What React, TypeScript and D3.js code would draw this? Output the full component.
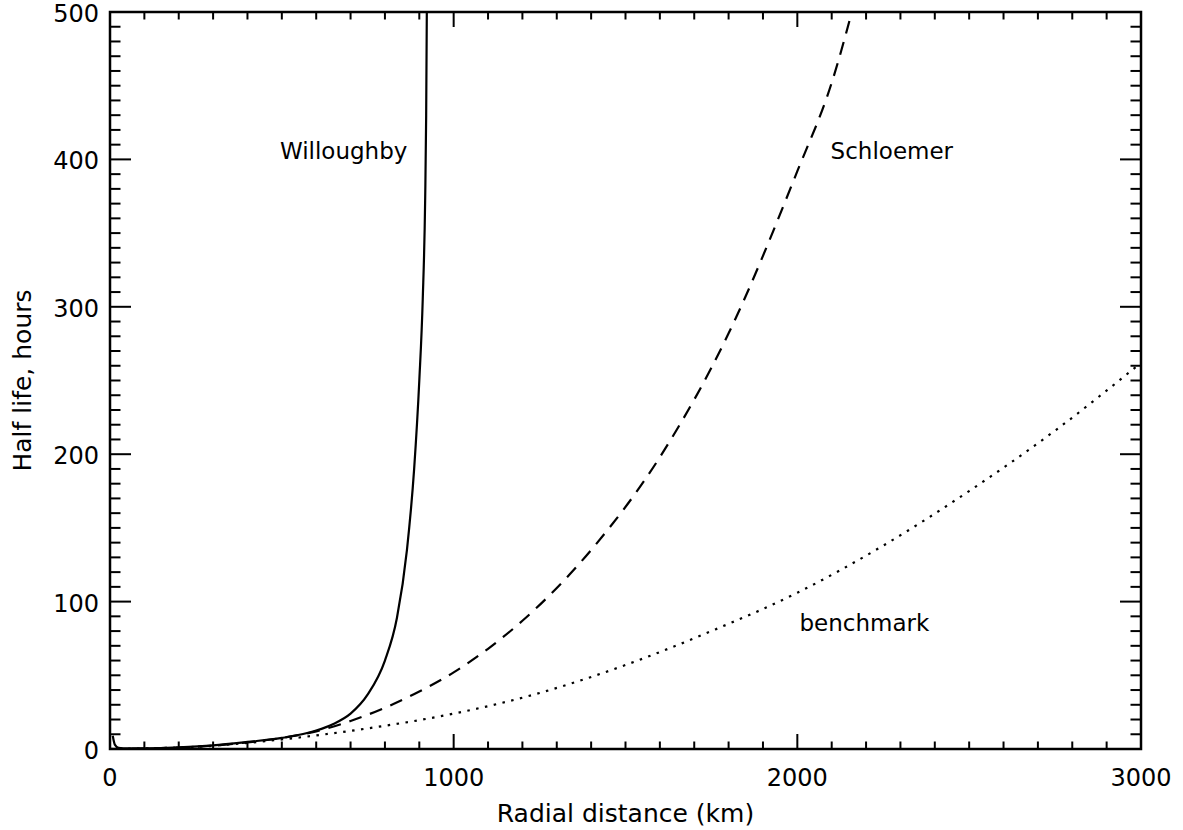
import React, { useEffect, useRef } from 'react';
import * as d3 from 'd3';

// Radial distance (km) / half life (hours)
const willoughbyKm = [8, 14, 25, 50, 100, 200, 300, 400, 500, 600, 650, 700, 750, 800, 835, 864, 885, 900, 910, 917, 920, 922];
const willoughbyHours = [9, 3, 0.8, 0.4, 0.5, 1.2, 2.5, 4.8, 7.5, 12.5, 17, 24, 37, 60, 89, 135, 190, 250, 305, 372, 430, 505];

const schloemerKm = [0, 100, 200, 300, 400, 500, 600, 700, 800, 900, 1000, 1100, 1200, 1400, 1600, 1800, 2000, 2100, 2170];
const schloemerHours = [0, 0.3, 1, 2.3, 4.5, 7.5, 12, 19, 28, 39, 52, 68, 87, 135, 198, 282, 392, 452, 510];

const benchmarkKm = [0, 250, 500, 750, 1000, 1250, 1500, 1750, 2000, 2250, 2500, 2750, 3000];
const benchmarkHours = [0, 1.5, 6.5, 14, 24, 38, 57, 80, 106, 138, 175, 216, 262];

const xTicks = [0, 1000, 2000, 3000];
const yTicks = [0, 100, 200, 300, 400, 500];

const curveLabels = ['Willoughby', 'Schloemer', 'benchmark'];
const labelKm = [680, 2275, 2195];
const labelHours = [400, 400, 80];

const FONT = '"DejaVu Sans", sans-serif';

const App: React.FC = () => {
  const svgRef = useRef<SVGSVGElement>(null);

  useEffect(() => {
    if (!svgRef.current) return;
    const svg = d3.select(svgRef.current);
    svg.selectAll('*').remove();

    const left = 110, right = 1141, top = 12, bottom = 749;

    const x = d3.scaleLinear().domain([0, 3000]).range([left, right]);
    const y = d3.scaleLinear().domain([0, 500]).range([bottom, top]);

    svg.append('defs').append('clipPath').attr('id', 'plot-clip')
      .append('rect')
      .attr('x', left).attr('y', top)
      .attr('width', right - left).attr('height', bottom - top);

    const line = d3.line<[number, number]>()
      .x(d => x(d[0]))
      .y(d => y(d[1]))
      .curve(d3.curveMonotoneX);

    const series = [
      { km: willoughbyKm, hours: willoughbyHours, dash: null as string | null },
      { km: schloemerKm, hours: schloemerHours, dash: '13,9' },
      { km: benchmarkKm, hours: benchmarkHours, dash: '2.5,6.5' }
    ];

    const plot = svg.append('g').attr('clip-path', 'url(#plot-clip)');
    series.forEach(s => {
      const pts = s.km.map((k, i) => [k, s.hours[i]] as [number, number]);
      const p = plot.append('path')
        .attr('d', line(pts))
        .attr('fill', 'none')
        .attr('stroke', '#000')
        .attr('stroke-width', 2.2);
      if (s.dash) p.attr('stroke-dasharray', s.dash);
    });

    // Frame
    svg.append('rect')
      .attr('x', left).attr('y', top)
      .attr('width', right - left).attr('height', bottom - top)
      .attr('fill', 'none')
      .attr('stroke', '#000')
      .attr('stroke-width', 2.5);

    const ticks = svg.append('g').attr('stroke', '#000').attr('stroke-width', 2);

    // x ticks (bottom and top), minor every 100 km
    d3.range(0, 3001, 100).forEach(v => {
      const major = v % 1000 === 0;
      const len = major ? 15 : 7.5;
      ticks.append('line').attr('x1', x(v)).attr('x2', x(v)).attr('y1', bottom).attr('y2', bottom - len);
      ticks.append('line').attr('x1', x(v)).attr('x2', x(v)).attr('y1', top).attr('y2', top + len);
    });

    // y ticks (left and right), minor every 10 hours
    d3.range(0, 501, 10).forEach(v => {
      const major = v % 100 === 0;
      const len = major ? 21 : 10.5;
      ticks.append('line').attr('x1', left).attr('x2', left + len).attr('y1', y(v)).attr('y2', y(v));
      ticks.append('line').attr('x1', right).attr('x2', right - len).attr('y1', y(v)).attr('y2', y(v));
    });

    // Tick labels
    xTicks.forEach(v => {
      svg.append('text')
        .attr('x', x(v)).attr('y', 786)
        .attr('text-anchor', 'middle')
        .attr('font-family', FONT).attr('font-size', 24)
        .text(String(v));
    });

    yTicks.forEach(v => {
      svg.append('text')
        .attr('x', 99).attr('y', y(v) + 2)
        .attr('text-anchor', 'end')
        .attr('dominant-baseline', 'central')
        .attr('font-family', FONT).attr('font-size', 24)
        .text(String(v));
    });

    // Axis titles
    svg.append('text')
      .attr('x', (left + right) / 2).attr('y', 822)
      .attr('text-anchor', 'middle')
      .attr('font-family', FONT).attr('font-size', 25)
      .text('Radial distance (km)');

    svg.append('text')
      .attr('transform', `translate(31,${(top + bottom) / 2}) rotate(-90)`)
      .attr('text-anchor', 'middle')
      .attr('font-family', FONT).attr('font-size', 25)
      .text('Half life, hours');

    // Curve labels
    curveLabels.forEach((t, i) => {
      svg.append('text')
        .attr('x', x(labelKm[i])).attr('y', y(labelHours[i]))
        .attr('text-anchor', 'middle')
        .attr('font-family', FONT).attr('font-size', 23)
        .text(t);
    });
  }, []);

  return (
    <svg
      ref={svgRef}
      width={1183}
      height={830}
      style={{ position: 'absolute', left: 0, top: 0, background: '#fff' }}
    />
  );
};

export default App;
